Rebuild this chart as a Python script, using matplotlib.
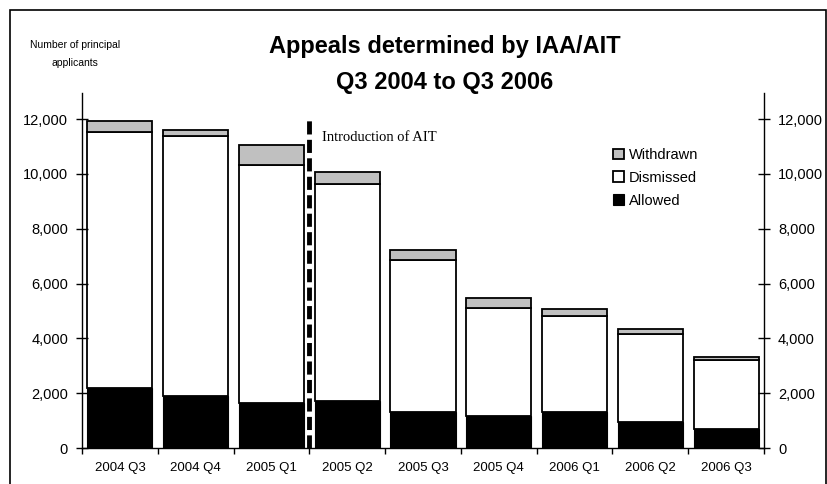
import numpy as np
import matplotlib
matplotlib.use("Agg")
import matplotlib.pyplot as plt
from matplotlib.patches import Rectangle

plt.rcParams['font.family'] = ['Liberation Sans', 'DejaVu Sans']

quarters = ['2004 Q3', '2004 Q4', '2005 Q1', '2005 Q2', '2005 Q3',
            '2005 Q4', '2006 Q1', '2006 Q2', '2006 Q3']
allowed = [2190, 1900, 1650, 1700, 1300, 1170, 1300, 960, 680]
dismissed = [9350, 9490, 8670, 7920, 5540, 3950, 3530, 3200, 2540]
withdrawn = [380, 195, 745, 460, 385, 365, 240, 180, 100]
yticks = [0, 2000, 4000, 6000, 8000, 10000, 12000]

x = np.arange(len(quarters))
allowed = np.array(allowed)
dismissed = np.array(dismissed)
withdrawn = np.array(withdrawn)

fig = plt.figure(figsize=(8.27, 4.84), dpi=100)
ax = fig.add_axes([82/827, 1 - 448/484, (764 - 82)/827, (448 - 93)/484])

w = 0.86
ax.bar(x, allowed, w, color='black', edgecolor='black', linewidth=0.8, label='Allowed')
ax.bar(x, dismissed, w, bottom=allowed, color='white', edgecolor='black',
       linewidth=1.3, label='Dismissed')
ax.bar(x, withdrawn, w, bottom=allowed + dismissed, color='#c0c0c0',
       edgecolor='black', linewidth=1.3, label='Withdrawn')

# introduction of AIT marker
ax.plot([2.5, 2.5], [0, 11950], color='black', linewidth=3.5,
        linestyle=(0, (2.7, 1.1)))
ax.text(2.67, 11330, 'Introduction of AIT', family='Liberation Serif',
        fontsize=10.5, va='center', ha='left')

ax.set_xlim(-0.5, len(quarters) - 0.5)
ax.set_ylim(0, 12950)
ax.set_xticks(x)
ax.set_xticklabels(quarters, fontsize=9.5)
ax.set_xticks(np.arange(-0.5, len(quarters)), minor=True)
ax.tick_params(axis='x', which='major', length=0, pad=10)
ax.tick_params(axis='x', which='minor', length=4, direction='out', width=1)
ax.set_yticks(yticks)
ax.set_yticklabels([f'{v:,}' for v in yticks], fontsize=10.5)
ax.tick_params(axis='y', which='major', direction='inout', length=8, width=1,
               right=True, labelright=True, pad=6)
ax.spines['top'].set_visible(False)
for s in ['left', 'right', 'bottom']:
    ax.spines[s].set_linewidth(1)

handles, labels = ax.get_legend_handles_labels()
leg = ax.legend(handles[::-1], labels[::-1], loc='upper left',
                bbox_to_anchor=(0.76, 0.882), frameon=False, fontsize=10.5,
                handlelength=0.75, handleheight=0.75, handletextpad=0.3,
                labelspacing=0.6)

fig.text(445/827, 1 - 47/484, 'Appeals determined by IAA/AIT', ha='center',
         va='center', fontsize=17, fontweight='bold')
fig.text(445/827, 1 - 82/484, 'Q3 2004 to Q3 2006', ha='center',
         va='center', fontsize=17, fontweight='bold')
fig.text(75/827, 1 - 54/484, 'Number of principal\napplicants', ha='center',
         va='center', fontsize=7.5, linespacing=1.9)

# outer frame
fig.patches.append(Rectangle((10/827, -0.05), (826 - 10)/827, 1.05 - 10/484,
                             transform=fig.transFigure, fill=False,
                             edgecolor='black', linewidth=1.2))

fig.savefig('out.png', dpi=100)
